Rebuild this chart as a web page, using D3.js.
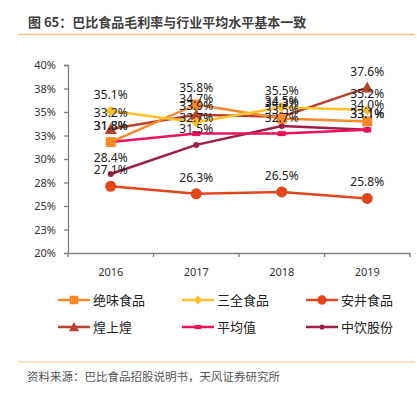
<!DOCTYPE html>
<html>
<head>
<meta charset="utf-8">
<script src="https://cdn.jsdelivr.net/npm/d3@7"></script>
<style>
  body{margin:0;background:#fff;}
  svg{display:block;font-family:"Noto Sans","Noto Sans CJK SC",sans-serif;}
</style>
</head>
<body>
<svg id="chart" width="417" height="397"></svg>
<script>
// data
var years=["2016","2017","2018","2019"];
var seriesNames=["绝味食品","三全食品","安井食品","煌上煌","平均值","中饮股份"];
var juewei=[31.8,35.8,34.3,34.0];
var sanquan=[35.1,33.9,35.5,35.2];
var anjing=[27.1,26.3,26.5,25.8];
var huangshanghuang=[33.2,34.7,34.5,37.6];
var average=[31.8,32.7,32.7,33.1];
var zhongyin=[28.4,31.5,33.5,33.1];
var yTicks=[20,22.5,25,27.5,30,32.5,35,37.5,40];
var yTickLabels=["20%","23%","25%","28%","30%","33%","35%","38%","40%"];

var seriesValues=[juewei,sanquan,anjing,huangshanghuang,average,zhongyin];
var colors=["#F7892B","#FFC12A","#E2461D","#B5432D","#EC1260","#9E1F45"];
var markers=["square","diamond","circle","triangle","bar","dot"];

var svg=d3.select("#chart");

// title + rule
svg.append("text").attr("x",28).attr("y",27)
    .attr("font-family","'Noto Sans CJK SC',sans-serif")
    .attr("font-size","13px").attr("font-weight","bold").attr("fill","#404040")
    .text("图 65：巴比食品毛利率与行业平均水平基本一致");
svg.append("line").attr("x1",18).attr("x2",415).attr("y1",34.5).attr("y2",34.5)
    .attr("stroke","#FBBF85").attr("stroke-width",1.5);

var plotLeft=68,plotRight=410,plotTop=65,plotBottom=253;
var xScale=d3.scaleBand().domain(years).range([plotLeft,plotRight]);
var yScale=d3.scaleLinear().domain([20,40]).range([plotBottom,plotTop]);

// y axis
var yAxis=svg.append("g").attr("transform","translate("+plotLeft+",0)")
    .call(d3.axisLeft(yScale).tickValues(yTicks).tickSize(4).tickPadding(8)
        .tickFormat(function(d,i){return yTickLabels[i];}));
yAxis.select(".domain").attr("stroke","#808080").attr("stroke-width",1.3);
yAxis.selectAll(".tick line").attr("stroke","#808080").attr("stroke-width",1.3);
yAxis.selectAll("text").attr("font-size","11px").attr("fill","#333")
    .attr("font-family","'Noto Sans',sans-serif");

// x axis
var xAxis=svg.append("g").attr("transform","translate(0,"+plotBottom+")")
    .call(d3.axisBottom(xScale).tickSize(0).tickPadding(15));
xAxis.select(".domain").attr("stroke","#808080").attr("stroke-width",1.3);
xAxis.selectAll("text").attr("font-size","11px").attr("fill","#333")
    .attr("font-family","'Noto Sans',sans-serif");
// tick marks at band boundaries
xAxis.selectAll(".bound").data(d3.range(years.length+1)).enter().append("line")
    .attr("x1",function(i){return plotLeft+i*xScale.bandwidth();})
    .attr("x2",function(i){return plotLeft+i*xScale.bandwidth();})
    .attr("y1",0).attr("y2",4)
    .attr("stroke","#808080").attr("stroke-width",1.3);

function cx(i){return xScale(years[i])+xScale.bandwidth()/2;}

function drawMarker(g,type,x,y,color,scale){
    var s=scale||1;
    if(type=="square"){
        g.append("rect").attr("x",x-5*s).attr("y",y-5*s).attr("width",10*s).attr("height",10*s).attr("fill",color);
    } else if(type=="diamond"){
        g.append("path").attr("d",d3.symbol(d3.symbolDiamond2,70*s*s)()).attr("transform","translate("+x+","+y+")").attr("fill",color);
    } else if(type=="circle"){
        g.append("circle").attr("cx",x).attr("cy",y).attr("r",5.5*s).attr("fill",color);
    } else if(type=="triangle"){
        g.append("path").attr("d","M0,-6L6,5L-6,5Z").attr("transform","translate("+x+","+y+") scale("+s+")").attr("fill",color);
    } else if(type=="bar"){
        g.append("rect").attr("x",x-4*s).attr("y",y-2.5*s).attr("width",8*s).attr("height",5*s).attr("fill",color);
    } else if(type=="dot"){
        g.append("circle").attr("cx",x).attr("cy",y).attr("r",3*s).attr("fill",color);
    }
}

var line=d3.line().x(function(d,i){return cx(i);}).y(function(d){return yScale(d);});

// lines + markers
var order=[5,4,2,3,0,1];
order.forEach(function(k){
    var g=svg.append("g");
    g.append("path").datum(seriesValues[k]).attr("d",line)
        .attr("fill","none").attr("stroke",colors[k]).attr("stroke-width",2.5);
    seriesValues[k].forEach(function(v,i){
        drawMarker(g,markers[k],cx(i),yScale(v),colors[k]);
    });
});

// data labels
seriesValues.forEach(function(vals,k){
    svg.append("g").selectAll("text").data(vals).enter().append("text")
        .attr("x",function(d,i){return cx(i);})
        .attr("y",function(d){return yScale(d)-12;})
        .attr("text-anchor","middle")
        .attr("font-family","'Noto Sans',sans-serif")
        .attr("font-size","12px").attr("fill","#222")
        .text(function(d){return d.toFixed(1)+"%";});
});

// legend
var legend=svg.append("g");
seriesNames.forEach(function(name,k){
    var col=k%3,row=Math.floor(k/3);
    var lx=58+col*124,ly=300+row*27;
    legend.append("line").attr("x1",lx).attr("x2",lx+32).attr("y1",ly).attr("y2",ly)
        .attr("stroke",colors[k]).attr("stroke-width",2.5);
    drawMarker(legend,markers[k],lx+16,ly,colors[k],0.85);
    legend.append("text").attr("x",lx+35).attr("y",ly+5)
        .attr("font-family","'Noto Sans CJK SC',sans-serif")
        .attr("font-size","13px").attr("fill","#222").text(name);
});

// source
svg.append("line").attr("x1",18).attr("x2",415).attr("y1",362).attr("y2",362)
    .attr("stroke","#FBBF85").attr("stroke-width",1);
svg.append("text").attr("x",27).attr("y",381)
    .attr("font-family","'Noto Sans CJK SC',sans-serif")
    .attr("font-size","11.5px").attr("fill","#555")
    .text("资料来源：巴比食品招股说明书，天风证券研究所");
</script>
</body>
</html>
